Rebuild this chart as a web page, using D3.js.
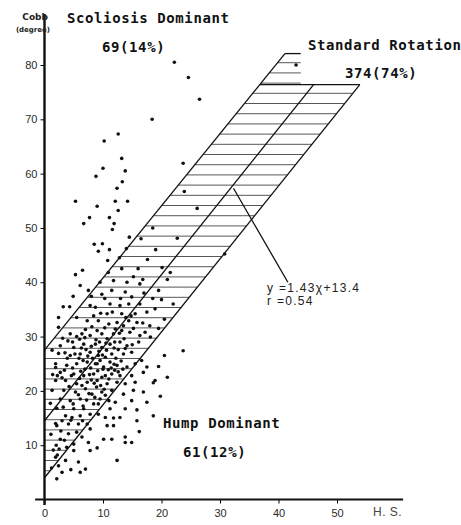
<!DOCTYPE html>
<html>
<head>
<meta charset="utf-8">
<script src="https://cdn.jsdelivr.net/npm/d3@7"></script>
<style>
  body { margin: 0; background: #fff; }
  .tick text { font-family: "Liberation Sans", Arial, sans-serif; font-size: 11px; fill: #2a2a2a; }
</style>
</head>
<body>
<div id="chart"></div>
<script>
// ticks
var xTicks = [0, 10, 20, 30, 40, 50];
var yTicks = [10, 20, 30, 40, 50, 60, 70, 80];

// scatter, [H.S., Cobb]
var scoliosisPts = [
  [22.2,80.5],[24.6,77.7],[26.5,73.7],[18.4,70.0],[23.7,61.9],
  [10.2,66.0],[12.6,67.3],[13.8,60.5],[13.3,58.5],[12.4,57.3],[10.0,61.0],[13.2,62.8],[8.8,59.5],
  [5.3,54.9],[9.0,54.0],[12.1,54.9],[14.2,54.9],[12.6,53.2],[7.7,51.9],[11.1,51.9],[6.7,50.8],
  [11.9,50.8],[11.6,49.7],[14.5,48.3],[8.5,47.0],[9.9,47.1],[9.2,45.7],[11.1,46.0],[10.8,44.0],
  [6.5,42.2],[5.3,41.4],[6.1,39.4],[7.5,38.5],[4.9,37.4],[3.2,35.5],[4.3,35.5],[2.4,33.5],[2.4,31.7]
];
var standardPts = [
  [23.9,56.7],[26.1,53.6],[43.0,80.0],[22.7,48.1],[17.6,44.2],[20.1,42.7],[10.9,41.8],[11.8,40.3],
  [30.8,45.2],[19.5,38.5],[21.0,40.5],[16.0,42.5],
  [9.5,40.0],[14.1,40.0],[16.3,39.7],[9.8,37.8],[11.5,38.5],[13.8,38.2],[7.8,35.7],[8.7,35.4],
  [11.2,36.0],[12.9,35.7],[14.4,36.0],[16.3,36.0],[10.7,34.2],[13.2,34.2],[15.5,34.2],[17.5,34.5],
  [18.9,35.1],[5.5,33.5],[7.3,32.9],[9.2,32.9],[12.4,32.6],[14.4,32.9],[15.8,32.6],
  [4.4,30.5],[6.4,30.5],[7.8,30.2],[9.0,31.1],[9.8,30.5],[10.7,29.6],[11.8,30.5],[13.2,31.1],
  [14.6,30.8],[16.3,30.2],[18.1,29.9],[2.7,28.3],[5.0,28.0],[6.7,28.6],[8.7,28.6],[9.8,28.0],
  [11.2,28.6],[12.9,29.0],[14.1,28.3],[16.1,29.0],[4.4,26.5],[6.1,26.8],[7.8,27.1],[9.2,26.5],
  [10.4,26.2],[11.5,26.8],[13.5,26.8],[14.9,27.1],[16.6,25.6],[1.9,25.0],[3.8,24.7],[5.5,25.0],
  [7.3,25.3],[8.7,25.0],[10.1,24.4],[11.2,25.3],[12.4,24.7],[14.1,24.4],[15.5,25.0],
  [2.7,23.4],[5.0,23.1],[6.7,22.8],[8.4,23.1],[9.8,22.5],[11.5,23.1],[12.9,22.8],
  [1.9,21.9],[3.6,21.9],[5.5,21.3],[7.3,21.6],[9.0,21.9],[10.7,21.3],[12.4,21.6],
  [1.3,20.1],[3.3,20.1],[5.3,19.8],[7.0,20.4],[8.1,19.4],[9.8,19.8],[11.5,20.1],
  [2.7,18.5],[4.4,18.2],[6.1,18.5],[9.5,18.5],
  [6.9,24.0],[7.9,24.2],[8.2,26.0],[9.5,25.6],[10.6,27.5],[11.9,27.9],[12.2,26.0],[10.9,23.9],
  [9.1,23.7],[8.0,22.0],[6.4,21.0],[7.6,19.5],[8.9,20.7],[10.2,20.3],[11.0,22.2],[12.0,23.8],
  [13.1,25.5],[12.6,27.6],[9.3,27.3],[7.1,27.6],[5.9,26.0],[4.8,24.2],[6.2,23.6],[3.0,22.4],
  [4.2,20.8],[5.8,19.3],[8.8,29.4],[10.3,31.6],[12.1,31.4],[13.6,29.6],[7.0,31.3],[6.0,29.5],
  [11.6,34.5],[9.6,34.3],[8.4,33.8],[13.9,33.5],[12.8,30.6],[10.5,28.8],[11.9,24.9],[9.9,26.6],
  [5.0,16.7],[6.7,16.7],[8.4,17.6],[7.8,15.7],[6.1,15.4],[4.7,15.1],[3.6,15.4],[2.1,13.6],
  [4.1,13.9],[5.8,13.9],[7.3,13.9],[5.5,12.4],[4.1,12.1],[2.7,11.1],[5.0,10.2],[3.8,9.6],
  [1.9,7.8],[2.4,26.9],[1.9,24.3],[2.1,16.8],[1.9,14.0],[2.0,10.0],
  [3.5,27.0],[4.0,29.2],[5.5,30.0],[6.9,29.8],[8.1,31.8],[9.4,29.0],[11.0,32.3],[12.0,29.0],
  [13.5,32.0],[14.8,33.8],[15.2,31.5],[16.8,32.5],[17.2,30.8],[15.0,28.5],[13.8,27.8],[12.6,23.5],
  [13.4,24.0],[10.4,22.8],[9.6,21.0],[8.5,21.4],[7.7,23.0],[6.0,22.3],[4.6,22.8],[3.4,23.8],
  [2.2,22.8],[3.9,26.0],[5.2,26.8],[6.6,25.6],[8.0,28.2],[10.0,24.0],[11.4,24.2],[9.0,25.0],
  [7.4,26.4],[6.3,27.9],[4.8,29.0],[3.1,29.7],[7.2,18.3],[8.6,18.8],[10.4,19.2],[6.6,17.2],
  [4.9,17.6],[3.2,17.0],[3.0,14.5],[4.5,14.6],[6.5,14.5],[2.8,12.6],[3.4,10.9],[1.5,9.1],
  [2.5,9.3],[1.2,5.8],[1.0,17.7],[1.1,12.0],[1.3,27.5],[1.4,23.0],[13.0,37.0],[10.3,37.0],
  [8.0,37.4],[14.9,37.3],[17.0,38.0],[18.5,37.0],[20.0,36.8],[19.5,31.5],[18.0,32.0],[20.5,33.2],
  [22.0,36.0],[21.5,41.8],[19.0,46.0],[16.8,40.5],[15.2,41.0],[13.2,42.5],[12.8,44.5],[14.0,46.2],
  [16.5,48.0],[18.5,50.0]
];
var humpPts = [
  [9.2,17.6],[12.1,17.9],[11.2,16.7],[13.8,16.7],[15.8,16.5],[17.5,17.9],[18.6,15.4],[15.8,14.5],
  [12.9,15.1],[11.8,15.0],[10.4,15.1],[9.2,15.7],[10.7,13.6],[11.8,13.6],[7.8,13.0],[6.4,11.5],
  [10.1,11.1],[11.5,11.1],[13.8,11.5],[13.8,10.5],[14.9,10.5],[5.0,9.0],[7.5,10.5],[7.8,9.0],
  [3.6,7.2],[2.4,6.2],[5.8,6.9],[6.1,5.0],[7.0,5.6],[3.0,5.0],[2.1,3.8],[12.4,7.2],[2.2,8.2],
  [17.5,24.4],[14.9,22.8],[16.9,23.4],[13.8,21.3],[15.5,21.6],[18.9,21.9],[13.5,19.4],[15.2,20.1],
  [16.9,19.8],[11.0,18.2],[14.9,18.2],[18.6,21.5],[19.5,24.5],[20.5,26.5],[23.7,27.4],
  [16.2,12.5],[19.8,19.0],[21.0,22.5],[9.0,9.5],[4.5,5.5]
];

// band outline
var upperEdge = [[0, 27.5], [41.1, 82.1]];
var topCap = [[41.1, 82.1], [43.8, 82.1]];
var bandTop = [[36.8, 76.4], [53.9, 76.4]];
var lowerEdge = [[0, 4.0], [53.9, 76.4]];
var regLine = [[0, 14.5], [46.0, 76.4]];
var pointer = [[41.6, 40.0], [32.3, 57.3]];

var width = 461, height = 525;
var x = d3.scaleLinear().domain([0, 50]).range([44.5, 337]);
var y = d3.scaleLinear().domain([0, 80]).range([499.5, 65]);

var svg = d3.select("#chart").append("svg")
  .attr("width", width).attr("height", height)
  .style("background", "#fff");

// hatching (horizontal lines across the band)
function edgeX(seg, v) {
  var a = seg[0], b = seg[1];
  return a[0] + (v - a[1]) * (b[0] - a[0]) / (b[1] - a[1]);
}
var hatchStep = 10.2; // px between hatch lines
var hatchPx = d3.range(y(5.3), y(82.1), -hatchStep);
svg.append("g").selectAll("line").data(hatchPx).enter().append("line")
  .attr("x1", function (p) { var v = y.invert(p); return x(Math.max(0, edgeX(upperEdge, v))); })
  .attr("x2", function (p) {
    var v = y.invert(p);
    return x(v > bandTop[0][1] ? topCap[1][0] : edgeX(lowerEdge, v));
  })
  .attr("y1", function (p) { return p; })
  .attr("y2", function (p) { return p; })
  .attr("stroke", "#444").attr("stroke-width", 0.9);

var line = d3.line().x(function (d) { return x(d[0]); }).y(function (d) { return y(d[1]); });
[upperEdge, topCap, bandTop, lowerEdge, regLine, pointer].forEach(function (seg) {
  svg.append("path").attr("d", line(seg))
    .attr("fill", "none").attr("stroke", "#111").attr("stroke-width", 1.3);
});

// points
var allPts = scoliosisPts.concat(standardPts, humpPts);
svg.append("g").selectAll("circle").data(allPts).enter().append("circle")
  .attr("cx", function (d) { return x(d[0]); })
  .attr("cy", function (d) { return y(d[1]); })
  .attr("r", 1.8).attr("fill", "#111");

// axes
var xAxis = svg.append("g").attr("transform", "translate(0," + y(0) + ")")
  .call(d3.axisBottom(x).tickValues(xTicks).tickSize(4).tickPadding(6));
xAxis.select(".domain").remove();
svg.append("line").attr("x1", x(-1.6)).attr("x2", x(61.3))
  .attr("y1", y(0)).attr("y2", y(0)).attr("stroke", "#111").attr("stroke-width", 2);

var yAxis = svg.append("g").attr("transform", "translate(" + x(0) + ",0)")
  .call(d3.axisLeft(y).tickValues(yTicks).tickSize(4).tickPadding(3));
yAxis.select(".domain").remove();
svg.append("line").attr("x1", x(0)).attr("x2", x(0))
  .attr("y1", y(-1)).attr("y2", 14).attr("stroke", "#111").attr("stroke-width", 2.4);

// axis titles
svg.append("text").attr("x", 48).attr("y", 20).attr("text-anchor", "end")
  .style("font", "bold 9px 'DejaVu Sans', sans-serif").attr("fill", "#222").text("Cobb");
svg.append("text").attr("x", 50).attr("y", 32).attr("text-anchor", "end")
  .style("font", "bold 7px 'DejaVu Sans', sans-serif").attr("fill", "#222").text("(degree)");
svg.append("text").attr("x", 373).attr("y", 516)
  .style("font", "12px 'Liberation Sans', sans-serif").style("letter-spacing", "0.5px")
  .attr("fill", "#444").text("H. S.");

// group labels
var labels = [
  { t: "Scoliosis Dominant", x: 67, y: 23 },
  { t: "69(14%)", x: 102, y: 52 },
  { t: "Standard Rotation", x: 308, y: 50 },
  { t: "374(74%)", x: 345, y: 78 },
  { t: "Hump Dominant", x: 163, y: 428 },
  { t: "61(12%)", x: 183, y: 457 }
];
svg.append("g").selectAll("text").data(labels).enter().append("text")
  .attr("x", function (d) { return d.x; })
  .attr("y", function (d) { return d.y; })
  .style("font", "bold 14px 'DejaVu Sans Mono', monospace")
  .style("letter-spacing", "0.6px")
  .attr("fill", "#111")
  .text(function (d) { return d.t; });

// regression note
svg.append("text").attr("x", 267).attr("y", 292)
  .style("font", "12px 'Liberation Sans', sans-serif").style("letter-spacing", "1.3px")
  .attr("fill", "#222").text("y =1.43\u03c7+13.4");
svg.append("text").attr("x", 267).attr("y", 305)
  .style("font", "12px 'Liberation Sans', sans-serif").style("letter-spacing", "1.3px")
  .attr("fill", "#222").text("r =0.54");
</script>
</body>
</html>
